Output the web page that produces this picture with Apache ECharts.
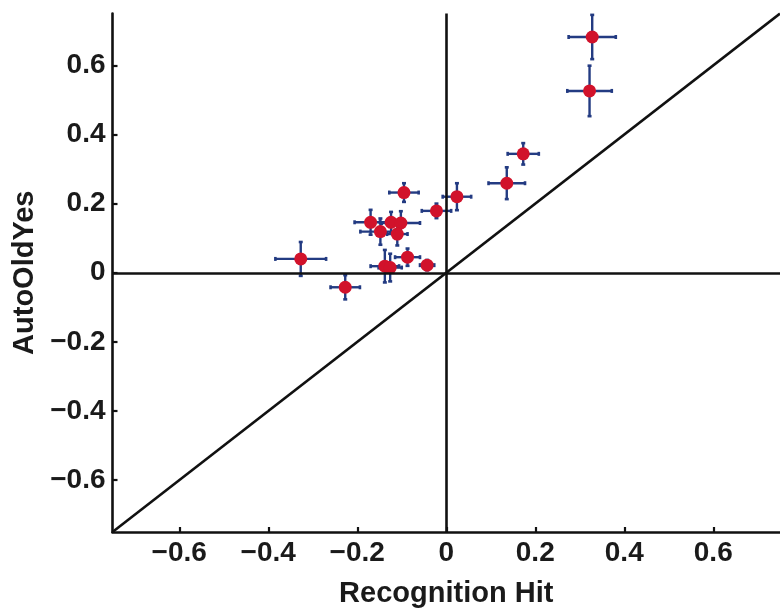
<!DOCTYPE html>
<html>
<head>
<meta charset="utf-8">
<script src="https://cdn.jsdelivr.net/npm/echarts@6/dist/echarts.min.js"></script>
<style>html,body{margin:0;padding:0;background:#fff}#c{width:780px;height:613px}</style>
</head>
<body>
<div id="c"></div>
<script>
// Data
var xVals = [0.328, 0.322, 0.173, 0.136, 0.024, -0.022, -0.095, -0.170, -0.124, -0.102, -0.148, -0.110, -0.327, -0.227, -0.138, -0.126, -0.087, -0.043];
var yVals = [0.682, 0.526, 0.344, 0.259, 0.220, 0.179, 0.232, 0.146, 0.146, 0.144, 0.119, 0.112, 0.040, -0.042, 0.019, 0.015, 0.045, 0.022];
var xErr  = [0.053, 0.050, 0.035, 0.041, 0.032, 0.033, 0.033, 0.036, 0.025, 0.043, 0.045, 0.023, 0.057, 0.033, 0.032, 0.026, 0.028, 0.016];
var yErr  = [0.064, 0.073, 0.031, 0.046, 0.039, 0.021, 0.027, 0.036, 0.030, 0.034, 0.038, 0.033, 0.049, 0.035, 0.047, 0.040, 0.025, 0.015];
var tickValues = [-0.6, -0.4, -0.2, 0, 0.2, 0.4, 0.6];
var axisMin = -0.75, axisMax = 0.75;
var diagonal = [[-0.75, -0.75], [0.75, 0.75]];
var xName = 'Recognition Hit';
var yName = 'AutoOldYes';

var FONT = '"Liberation Sans", Arial, Helvetica, sans-serif';
var BLUE = '#233b82';
var RED = '#d1122b';

function fmt(v) {
  if (Math.abs(v) < 1e-9) return '0';
  var s = Math.abs(v).toFixed(1);
  return (v < 0 ? '\u2212' : '') + s;
}

var points = xVals.map(function (x, i) { return [x, yVals[i]]; });
var errData = xVals.map(function (x, i) { return [x, yVals[i], xErr[i], yErr[i]]; });

function axisCommon(name, gap) {
  return {
    type: 'value', min: axisMin, max: axisMax,
    name: name, nameLocation: 'middle', nameGap: gap,
    nameTextStyle: { fontFamily: FONT, fontWeight: 'bold', fontSize: 29, color: '#1a1a1a' },
    axisLine: { onZero: false, lineStyle: { color: '#111', width: 2.6 } },
    axisTick: { inside: true, length: 5, lineStyle: { color: '#111', width: 2.2 }, customValues: tickValues },
    axisLabel: { customValues: tickValues, formatter: fmt, fontFamily: FONT, fontWeight: 'bold', fontSize: 28, color: '#1a1a1a', margin: 7 },
    splitLine: { show: false }
  };
}

var chart = echarts.init(document.getElementById('c'), null, { renderer: 'canvas' });
chart.setOption({
  animation: false,
  backgroundColor: '#fff',
  grid: { left: 112.5, top: 13.5, width: 671.7, height: 525 },
  xAxis: axisCommon(xName, 47),
  yAxis: axisCommon(yName, 65),
  series: [
    {
      type: 'line', data: diagonal, symbol: 'none', silent: true, z: 1,
      lineStyle: { color: '#111', width: 2.6 },
      markLine: {
        silent: true, symbol: 'none', label: { show: false },
        lineStyle: { color: '#111', width: 2.6, type: 'solid' },
        data: [{ xAxis: 0 }, { yAxis: 0 }]
      }
    },
    {
      type: 'custom', z: 3, data: errData,
      renderItem: function (params, api) {
        var x = api.value(0), y = api.value(1), xe = api.value(2), ye = api.value(3);
        var c = api.coord([x, y]);
        var l = api.coord([x - xe, y]), r = api.coord([x + xe, y]);
        var t = api.coord([x, y + ye]), b = api.coord([x, y - ye]);
        var st = { stroke: BLUE, lineWidth: 2.4 };
        var cs = { stroke: BLUE, lineWidth: 2.6 };
        var cap = 2;
        return {
          type: 'group',
          children: [
            { type: 'line', shape: { x1: l[0], y1: c[1], x2: r[0], y2: c[1] }, style: st },
            { type: 'line', shape: { x1: c[0], y1: t[1], x2: c[0], y2: b[1] }, style: st },
            { type: 'line', shape: { x1: l[0], y1: c[1] - cap, x2: l[0], y2: c[1] + cap }, style: cs },
            { type: 'line', shape: { x1: r[0], y1: c[1] - cap, x2: r[0], y2: c[1] + cap }, style: cs },
            { type: 'line', shape: { x1: c[0] - cap, y1: t[1], x2: c[0] + cap, y2: t[1] }, style: cs },
            { type: 'line', shape: { x1: c[0] - cap, y1: b[1], x2: c[0] + cap, y2: b[1] }, style: cs }
          ]
        };
      }
    },
    {
      type: 'scatter', z: 4, data: points, symbol: 'circle', symbolSize: 13,
      itemStyle: { color: RED, opacity: 1 }
    }
  ]
});
</script>
</body>
</html>
